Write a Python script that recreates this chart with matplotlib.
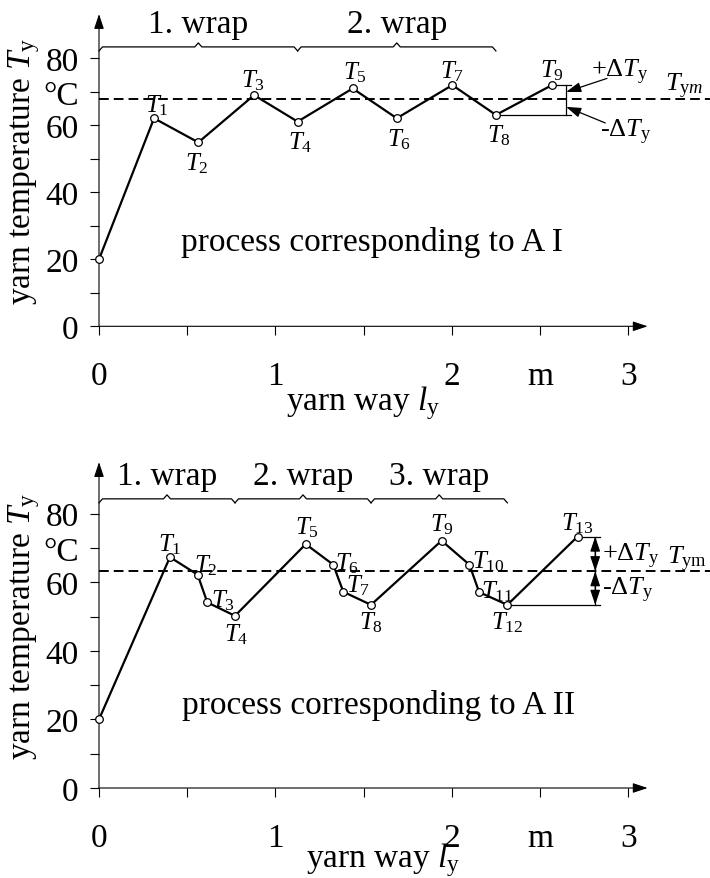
import numpy as np
import matplotlib.pyplot as plt

plt.rcParams['font.family'] = 'Liberation Serif'
plt.rcParams['mathtext.fontset'] = 'custom'
plt.rcParams['mathtext.rm'] = 'Liberation Serif'
plt.rcParams['mathtext.it'] = 'Liberation Serif:italic'

# process A I : yarn way (m) and yarn temperature (degC) at the points T0..T9
way_a1 = [0, 0.312, 0.563, 0.879, 1.126, 1.438, 1.688, 2.003, 2.25, 2.568]
temp_a1 = [20, 62.1, 54.9, 69.0, 61.1, 71.0, 62.1, 72.0, 63.1, 72.0]
mean_a1 = 67.9
wraps_a1 = [0, 4, 8]           # point index where each wrap ends

# process A II : points T0..T13
way_a2 = [0, 0.402, 0.559, 0.614, 0.771, 1.172, 1.328, 1.385, 1.542, 1.942,
          2.1, 2.155, 2.315, 2.713]
temp_a2 = [20, 67.3, 62.2, 54.1, 50.2, 71.1, 65.1, 57.2, 53.4, 72.1,
           65.1, 57.1, 53.4, 73.3]
mean_a2 = 63.2
wraps_a2 = [0, 4, 8, 12]

x_ticks = [0, 0.5, 1, 1.5, 2, 2.5, 3]
x_ticklabels = ['0', '', '1', '', '2', 'm', '3']
y_ticks = [0, 10, 20, 30, 40, 50, 60, 70, 80]
y_ticklabels = ['0', '', '20', '', '40', '', '60', '°C', '80']

# label offsets for T1.. in pixels (dx, dy)
offs_a1 = [(3, 14), (-1, -20), (-1, 15), (3, -20), (2, 17), (2, -20),
           (0, 14), (3, -20), (0, 15)]
offs_a2 = [(0, 13), (8, 10), (16, 3), (1, -18), (1, 17), (14, 2), (15, 7),
           (0, -17), (0, 17), (19, 4), (18, 1), (0, -17), (0, 14)]

PX_X = 176.4   # pixels per metre
FIG_W, FIG_H = 710, 879
FS = 24


def brace(ax, x0, x1, y, h):
    # curly bracket over [x0, x1], tip pointing up
    xm = (x0 + x1) / 2
    e = 0.02
    ax.plot([x0, x0 + e, xm - e, xm, xm + e, x1 - e, x1],
            [y - h, y, y, y + h, y, y, y - h],
            color='k', lw=0.9, clip_on=False)


def panel(ax, way, temp, mean, wraps, offs, px_y, ytop, brace_y):
    ax.set_xlim(0, (FIG_W - 99) / PX_X)
    ax.set_ylim(0, ax.get_position().height * FIG_H / px_y)
    for s in ax.spines.values():
        s.set_visible(False)
    ax.patch.set_alpha(0)

    ax.set_xticks(x_ticks)
    ax.set_xticklabels(x_ticklabels)
    ax.set_yticks(y_ticks)
    ax.set_yticklabels(y_ticklabels)
    ax.tick_params(direction='out', length=6.5, width=0.8, labelsize=FS)
    ax.tick_params(axis='x', pad=18)
    ax.tick_params(axis='y', pad=8)

    # axes with arrow heads
    arr = dict(arrowstyle='-|>,head_length=0.45,head_width=0.15',
               color='k', lw=0.8, shrinkA=0, shrinkB=0, mutation_scale=20)
    ax.annotate('', xy=(3.11, 0), xytext=(0, 0), arrowprops=arr,
                annotation_clip=False)
    ax.annotate('', xy=(0, ytop), xytext=(0, 0), arrowprops=arr,
                annotation_clip=False)

    # mean temperature
    ax.plot([0, 3.47], [mean, mean], color='k', lw=1.4,
            linestyle=(0, (5, 2.6)), clip_on=False)

    ax.plot(way, temp, color='k', lw=1.6, marker='o', ms=5.5,
            mfc='white', mec='k', mew=0.9, zorder=3, clip_on=False)
    for i, (dx, dy) in enumerate(offs, start=1):
        ax.annotate(r'$T_{%d}$' % i, (way[i], temp[i]),
                    xytext=(dx * 0.72, dy * 0.72), textcoords='offset points',
                    ha='center', va='center', fontsize=18)

    # wraps
    for n in range(len(wraps) - 1):
        x0 = way[wraps[n]]
        x1 = way[wraps[n + 1]]
        brace(ax, x0, x1, brace_y, 4 / px_y)
        ax.annotate('%d. wrap' % (n + 1), ((x0 + x1) / 2, brace_y),
                    xytext=(0, 11), textcoords='offset points',
                    ha='center', va='baseline', fontsize=FS)

    ax.text(-75 / PX_X, ytop / 2, r'yarn temperature $T_{\rm y}$',
            rotation=90, ha='center', va='center', fontsize=FS)


fig = plt.figure(figsize=(7.1, 8.79), dpi=100)
ax1 = fig.add_axes([99 / FIG_W, 1 - 327.3 / FIG_H, 611 / FIG_W, 327.3 / FIG_H])
ax2 = fig.add_axes([99 / FIG_W, 90 / FIG_H, 611 / FIG_W, 339 / FIG_H])

# upper chart
panel(ax1, way_a1, temp_a1, mean_a1, wraps_a1, offs_a1, 3.35, 93.2, 83.4)
ax1.text(1.55, 25.2, 'process corresponding to A I', ha='center',
         va='center', fontsize=FS)
ax1.text(1.5, -22.6, r'yarn way $l_{\rm y}$', ha='center', va='center',
         fontsize=FS)

xv = way_a1[-1] + 0.08
ax1.plot([xv, xv], [temp_a1[-2], temp_a1[-1]], color='k', lw=0.9)
ax1.plot([way_a1[-1], xv + 0.03], [temp_a1[-1]] * 2, color='k', lw=0.9)
ax1.plot([way_a1[-2], xv + 0.03], [temp_a1[-2]] * 2, color='k', lw=0.9)
arr1 = dict(arrowstyle='-|>,head_length=0.45,head_width=0.15', color='k',
            lw=0.9, shrinkA=0, shrinkB=0, mutation_scale=20)
ax1.annotate('', xy=(xv, (mean_a1 + temp_a1[-1]) / 2), xytext=(2.88, 74.0),
             arrowprops=arr1)
ax1.annotate('', xy=(xv, (mean_a1 + temp_a1[-2]) / 2), xytext=(2.87, 60.7),
             arrowprops=arr1)
ax1.text(2.79, 76.2, r'+$\it{\Delta T}_{\rm y}$', ha='left', va='center',
         fontsize=19)
ax1.text(2.84, 58.3, r'-$\it{\Delta T}_{\rm y}$', ha='left', va='center',
         fontsize=19)
ax1.text(3.21, 71.8, r'$T_{\mathrm{y}m}$', ha='left', va='center',
         fontsize=19, clip_on=False)

# lower chart
panel(ax2, way_a2, temp_a2, mean_a2, wraps_a2, offs_a2, 3.43, 95.0, 84.3)
ax2.text(1.585, 24.2, 'process corresponding to A II', ha='center',
         va='center', fontsize=FS)
ax2.text(1.61, -20.8, r'yarn way $l_{\rm y}$', ha='center', va='center',
         fontsize=FS)

xv = way_a2[-1] + 0.10
ax2.plot([xv, xv], [temp_a2[-2], temp_a2[-1]], color='k', lw=0.9)
ax2.plot([way_a2[-1], xv + 0.025], [temp_a2[-1]] * 2, color='k', lw=0.9)
ax2.plot([way_a2[-2], xv + 0.025], [temp_a2[-2]] * 2, color='k', lw=0.9)
arr2 = dict(arrowstyle='<|-|>,head_length=0.45,head_width=0.15', color='k',
            lw=0.9, shrinkA=0, shrinkB=0, mutation_scale=20)
ax2.annotate('', xy=(xv, temp_a2[-1]), xytext=(xv, mean_a2), arrowprops=arr2)
ax2.annotate('', xy=(xv, mean_a2), xytext=(xv, temp_a2[-2]), arrowprops=arr2)
ax2.text(2.85, 67.7, r'+$\it{\Delta T}_{\rm y}$', ha='left', va='center',
         fontsize=19)
ax2.text(2.85, 58.0, r'-$\it{\Delta T}_{\rm y}$', ha='left', va='center',
         fontsize=19)
ax2.text(3.22, 66.8, r'$T_{\rm ym}$', ha='left', va='center', fontsize=19,
         clip_on=False)

fig.savefig('out.png', dpi=100)
